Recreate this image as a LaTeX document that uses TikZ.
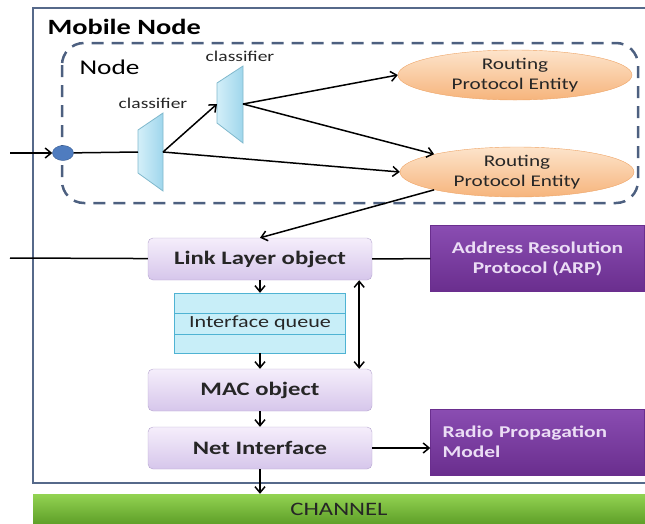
\documentclass[tikz,border=0pt]{standalone}
\usepackage{fontspec}
\setmainfont{Carlito}[FakeStretch=1.3]
\usetikzlibrary{arrows.meta,positioning,shapes.geometric}

\definecolor{framecol}{HTML}{56698A}
\definecolor{dashcol}{HTML}{4D6080}
\definecolor{dotfill}{HTML}{4F7CBF}
\definecolor{dotline}{HTML}{34598F}
\definecolor{clsline}{HTML}{7FB8CC}
\definecolor{clsleft}{HTML}{D3EFF9}
\definecolor{clsright}{HTML}{9FD6EC}
\definecolor{enttop}{HTML}{FDE4CB}
\definecolor{entbot}{HTML}{F6B47C}
\definecolor{entline}{HTML}{EEA466}
\definecolor{layertop}{HTML}{F5EEFB}
\definecolor{layerbot}{HTML}{D6C6EB}
\definecolor{layerline}{HTML}{B5A5CF}
\definecolor{qfill}{HTML}{C8EEF8}
\definecolor{qline}{HTML}{4FB3D3}
\definecolor{exttop}{HTML}{8A4DB2}
\definecolor{extbot}{HTML}{6A2E8E}
\definecolor{exttext}{HTML}{EBDDF5}
\definecolor{chantop}{HTML}{93D352}
\definecolor{chanbot}{HTML}{5E9F28}

\begin{document}
\begin{tikzpicture}[x=1pt, y=-1pt,
  font=\fontsize{16}{18}\selectfont,
  arr/.style={-{Straight Barb[length=6pt,width=10pt]}, line width=1.5pt},
  link/.style={line width=1.5pt},
  layer/.style={draw=layerline, rounded corners=5pt, top color=layertop,
                bottom color=layerbot, minimum width=224pt, minimum height=42pt,
                text=black!85, font=\fontsize{19}{21}\selectfont\bfseries},
  entity/.style={ellipse, draw=entline, top color=enttop, bottom color=entbot,
                 minimum width=234pt, minimum height=50pt, align=center,
                 inner sep=0pt, text=black!85, font=\fontsize{16.3}{19.5}\selectfont},
  extbox/.style={top color=exttop, bottom color=extbot, draw=extbot,
                 text=exttext, minimum width=214pt, minimum height=66pt,
                 font=\fontsize{16.5}{20}\selectfont\bfseries},
  cls/.style={draw=clsline, left color=clsleft, right color=clsright, line width=0.8pt},
  lab/.style={font=\fontsize{15}{17}\selectfont, text=black!85}]
\useasboundingbox (0,0) rectangle (645,523);

% mobile node frame
\draw[framecol, line width=2.5pt] (650,8) -- (33,8) -- (33,483) -- (650,483);
\node[anchor=west, font=\fontsize{21.8}{24}\selectfont\bfseries] (mobile) at (44,27) {Mobile Node};

% node (dashed)
\draw[dashcol, line width=2.5pt, dash pattern=on 12pt off 8pt, rounded corners=22pt]
  (62,43) rectangle (638,203);
\node[anchor=west, font=\fontsize{21}{23}\selectfont] (nodelab) at (76,67) {Node};

\node[ellipse, fill=dotfill, draw=dotline, minimum width=21pt, minimum height=15pt,
      inner sep=0pt] (port) at (63,153) {};
\coordinate (inlet) at (10,153);

% classifiers
\shade[cls] (138,130) -- (163,113) -- (163,191) -- (138,173) -- cycle;
\coordinate (cls1in) at (138,152);
\coordinate (cls1out) at (163,152);
\node[lab] (cls1lab) at (153,103) {classifier};
\shade[cls] (217,83) -- (243,66) -- (243,143) -- (217,123) -- cycle;
\coordinate (cls2in) at (217,104);
\coordinate (cls2out) at (243,104);
\node[lab] (cls2lab) at (240,56) {classifier};

\node[entity] (rpe1) at (515,75) {Routing\\Protocol Entity};
\node[entity] (rpe2) at (517,172) {Routing\\Protocol Entity};

% layers
\node[layer] (ll) at (260,259) {Link Layer object};
\node[draw=qline, fill=qfill, minimum width=171pt, minimum height=60pt,
      lab, font=\fontsize{17}{19}\selectfont] (ifq) at (260,323) {Interface queue};
\draw[qline] ([yshift=10pt]ifq.west) -- ([yshift=10pt]ifq.east)
             ([yshift=-11pt]ifq.west) -- ([yshift=-11pt]ifq.east);
\node[layer] (mac) at (260,390) {MAC object};
\node[layer] (nif) at (260,448) {Net Interface};

\node[extbox, align=center] (arp) at (537.5,258.5) {Address Resolution\\Protocol (ARP)};
\node[extbox, align=left, text width=190pt, inner xsep=12pt] (rpm) at (537.5,442)
  {Radio Propagation\\Model};
\coordinate (llin) at (10,258);

\node[top color=chantop, bottom color=chanbot, minimum width=612pt, minimum height=30pt,
      text=black!85, font=\fontsize{19}{20}\selectfont] (chan) at (339,509) {CHANNEL};

% connectors
\draw[arr] (inlet) -- (port);
\draw[link] (port) -- (cls1in);
\draw[arr] (cls1out) -- (cls2in);
\draw[arr] (cls2out) -- (rpe1.west);
\draw[arr] (cls2out) -- (rpe2.north west);
\draw[arr] (cls1out) -- (rpe2.west);
\draw[arr] (rpe2.south west) -- (ll.north);
\draw[link] (llin) -- (ll);
\draw[link] (ll) -- (arp);
\draw[arr] (ll) -- (ifq);
\draw[arr] (ifq) -- (mac);
\draw[arr] (mac) -- (nif);
\draw[arr, {Straight Barb[length=6pt,width=10pt]}-{Straight Barb[length=6pt,width=10pt]}]
  ([xshift=-13pt]ll.south east) -- ([xshift=-13pt]mac.north east);
\draw[arr] (nif.east) -- (nif.east -| rpm.west);
\draw[arr] (nif.south) -- (nif.south |- chan.north);
\end{tikzpicture}
\end{document}
